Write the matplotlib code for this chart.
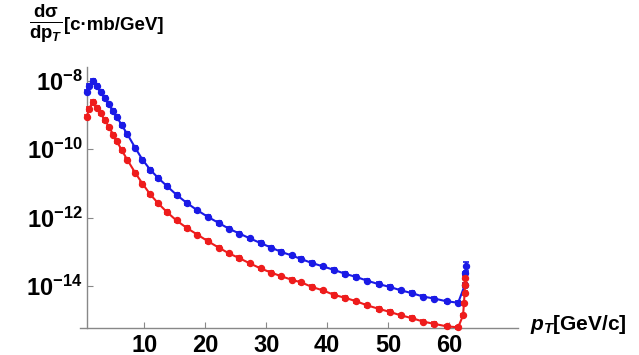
import numpy as np
import matplotlib
matplotlib.use('Agg')
import matplotlib.pyplot as plt

plt.rcParams['font.family'] = ['Liberation Sans', 'DejaVu Sans']
plt.rcParams['font.weight'] = 'bold'
plt.rcParams['mathtext.fontset'] = 'custom'
plt.rcParams['mathtext.rm'] = 'Liberation Sans:bold'
plt.rcParams['mathtext.bf'] = 'Liberation Sans:bold'
plt.rcParams['mathtext.it'] = 'Liberation Sans:bold:italic'
plt.rcParams['mathtext.default'] = 'rm'

# pT grid (GeV/c)
pt = [0.56, 0.98, 1.54, 2.2, 2.85, 3.56, 4.26, 4.92, 5.52, 6.3, 7.2, 8.5, 9.7,
      11.0, 12.3, 13.7, 15.3, 17.0, 18.7, 20.4, 22.2, 23.9, 25.6, 27.3, 29.1,
      30.8, 32.5, 34.2, 35.8, 37.5, 39.3, 41.1, 43.0, 44.8, 46.6, 48.5, 50.3,
      52.1, 53.9, 55.7, 57.6, 59.6, 61.5]

# log10 of dsigma/dpT
blue_log = [-8.32, -8.15, -8.01, -8.15, -8.32, -8.50, -8.69, -8.88, -9.06, -9.29,
            -9.55, -9.95, -10.3, -10.6, -10.84, -11.07, -11.33, -11.57, -11.78,
            -11.97, -12.15, -12.32, -12.46, -12.6, -12.74, -12.87, -13.0, -13.1,
            -13.21, -13.32, -13.42, -13.52, -13.64, -13.73, -13.84, -13.94, -14.02,
            -14.12, -14.2, -14.3, -14.36, -14.44, -14.48]
red_log = [-9.05, -8.82, -8.62, -8.78, -8.95, -9.15, -9.36, -9.57, -9.77, -10.02,
           -10.3, -10.68, -11.0, -11.32, -11.58, -11.83, -12.08, -12.3, -12.49,
           -12.68, -12.87, -13.04, -13.18, -13.33, -13.48, -13.6, -13.71, -13.81,
           -13.89, -14.02, -14.12, -14.25, -14.34, -14.44, -14.56, -14.66, -14.75,
           -14.85, -14.93, -15.03, -15.1, -15.17, -15.2]

# points at the kinematic edge
blue_edge_pt = [62.6, 62.7, 62.75]
blue_edge_log = [-13.96, -13.62, -13.42]
red_edge_pt = [62.3, 62.45, 62.55, 62.62, 62.7]
red_edge_log = [-14.85, -14.5, -14.2, -13.95, -13.75]

err_log = 0.05
blue_last_err = 0.14


def series(x, logs, edge_x, edge_logs, last_err):
    xs = np.array(list(x) + list(edge_x))
    ys = 10.0 ** np.array(list(logs) + list(edge_logs))
    e = np.full(len(ys), err_log)
    e[-1] = last_err
    lo = ys - ys * 10 ** (-e)
    hi = ys * 10 ** e - ys
    return xs, ys, [lo, hi]


fig = plt.figure(figsize=(6.39, 3.55), dpi=100)
ax = fig.add_axes([0.136, 0.076, 0.6745, 0.735])

xb, yb, eb = series(pt, blue_log, blue_edge_pt, blue_edge_log, blue_last_err)
xr, yr, er = series(pt, red_log, red_edge_pt, red_edge_log, err_log)

ax.errorbar(xb, yb, yerr=eb, color='#1a1ae6', marker='o', ms=4.3, lw=1.5,
            capsize=2, elinewidth=1.2, capthick=1.2, clip_on=False, zorder=3)
ax.errorbar(xr, yr, yerr=er, color='#ee1c1c', marker='o', ms=4.3, lw=1.5,
            capsize=2, elinewidth=1.2, capthick=1.2, clip_on=False, zorder=3)

ax.set_yscale('log')
ax.set_xlim(0.6, 71.3)
ax.set_ylim(10 ** -15.22, 10 ** -7.6)

for s in ['top', 'right']:
    ax.spines[s].set_visible(False)
for s in ['left', 'bottom']:
    ax.spines[s].set_color('#888888')
    ax.spines[s].set_linewidth(1)
ax.spines['bottom'].set_bounds(-0.5, 71.3)

ax.set_xticks([10, 20, 30, 40, 50, 60])
ax.set_xticklabels(['10', '20', '30', '40', '50', '60'])
ax.set_yticks([1e-8, 1e-10, 1e-12, 1e-14])
ax.set_yticklabels([r'$10^{-8}$', r'$10^{-10}$', r'$10^{-12}$', r'$10^{-14}$'])
ax.yaxis.set_minor_locator(matplotlib.ticker.NullLocator())
ax.tick_params(axis='both', direction='in', color='#888888', length=4,
               labelsize=17, pad=3)
ax.tick_params(axis='x', pad=4)

fig.text(530 / 639, 1 - 325 / 355, r'$\mathit{p}_{\mathit{T}}$[GeV/c]', fontsize=15,
         fontweight='bold', va='center', ha='left')
fig.text(29 / 639, 1 - 24 / 355, r'$\frac{d\sigma}{dp_{\mathit{T}}}$', fontsize=19,
         va='center', ha='left')
fig.text(64 / 639, 1 - 26 / 355, '[c·mb/GeV]', fontsize=13.5,
         fontweight='bold', va='center', ha='left')

fig.savefig('out.png', dpi=100)
